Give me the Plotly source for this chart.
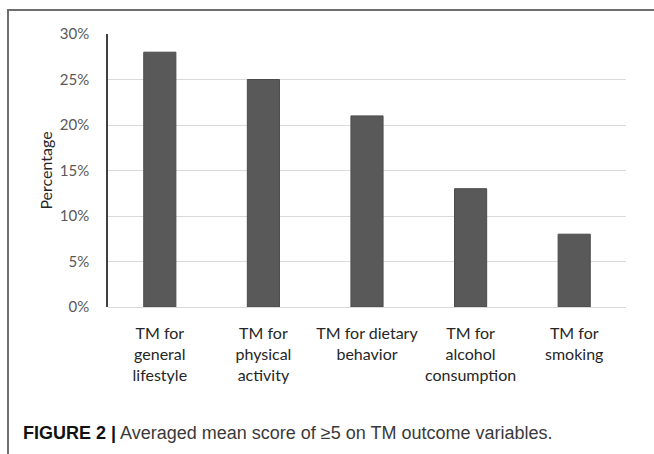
import plotly.graph_objects as go

categories = ["TM for<br>general<br>lifestyle", "TM for<br>physical<br>activity",
              "TM for dietary<br>behavior", "TM for<br>alcohol<br>consumption", "TM for<br>smoking"]
values = [0.28, 0.25, 0.21, 0.13, 0.08]
y_ticks = [0, 0.05, 0.10, 0.15, 0.20, 0.25, 0.30]
y_tick_labels = ["0%", "5%", "10%", "15%", "20%", "25%", "30%"]

W, H = 654, 454
L, R, T, B = 108, 28, 34, 147
pw, ph = W - L - R, H - T - B

def px(x):
    return (x - L) / pw

def py(y):
    return (H - B - y) / ph

fig = go.Figure(go.Bar(
    x=categories, y=values,
    marker=dict(color="#595959", line=dict(color="#4a4a4a", width=1)),
    width=0.31,
))

fig.update_layout(
    width=W, height=H,
    margin=dict(l=L, r=R, t=T, b=B, autoexpand=False),
    paper_bgcolor="white", plot_bgcolor="white",
    showlegend=False,
    font=dict(family="Lato", color="#333333"),
    xaxis=dict(
        tickfont=dict(family="Lato", size=16, color="#262626"),
        showgrid=False, showline=False, ticks="",
        ticklabelstandoff=15,
    ),
    yaxis=dict(
        range=[0, 0.30], tickvals=y_ticks, ticktext=y_tick_labels,
        tickfont=dict(family="Lato", size=15, color="#595959"),
        showgrid=True, gridcolor="#d9d9d9", gridwidth=1,
        zeroline=True, zerolinecolor="#d9d9d9", zerolinewidth=1,
        showline=True, linecolor="#404040", linewidth=1.5,
        ticks="", ticklabelstandoff=14,
        title=dict(text="Percentage", font=dict(family="Lato", size=16, color="#262626"), standoff=3),
    ),
    shapes=[
        dict(type="line", xref="paper", yref="paper", x0=px(7), x1=px(660), y0=py(10), y1=py(10),
             line=dict(color="#6e6e6e", width=2), layer="above"),
        dict(type="line", xref="paper", yref="paper", x0=px(8), x1=px(8), y0=py(9), y1=py(460),
             line=dict(color="#6e6e6e", width=2), layer="above"),
    ],
    annotations=[
        dict(xref="paper", yref="paper", x=px(21), y=py(433), xanchor="left", yanchor="middle",
             showarrow=False,
             text="<b>FIGURE 2 |</b> <span style='color:#3a3a3a'>Averaged mean score of \u22655 on TM outcome variables.</span>",
             font=dict(family="Liberation Sans", size=18, color="#111111")),
    ],
)

fig.write_html("out.html", config={"displayModeBar": False},
               post_script="document.body.style.margin='0';document.body.style.overflow='hidden';")
